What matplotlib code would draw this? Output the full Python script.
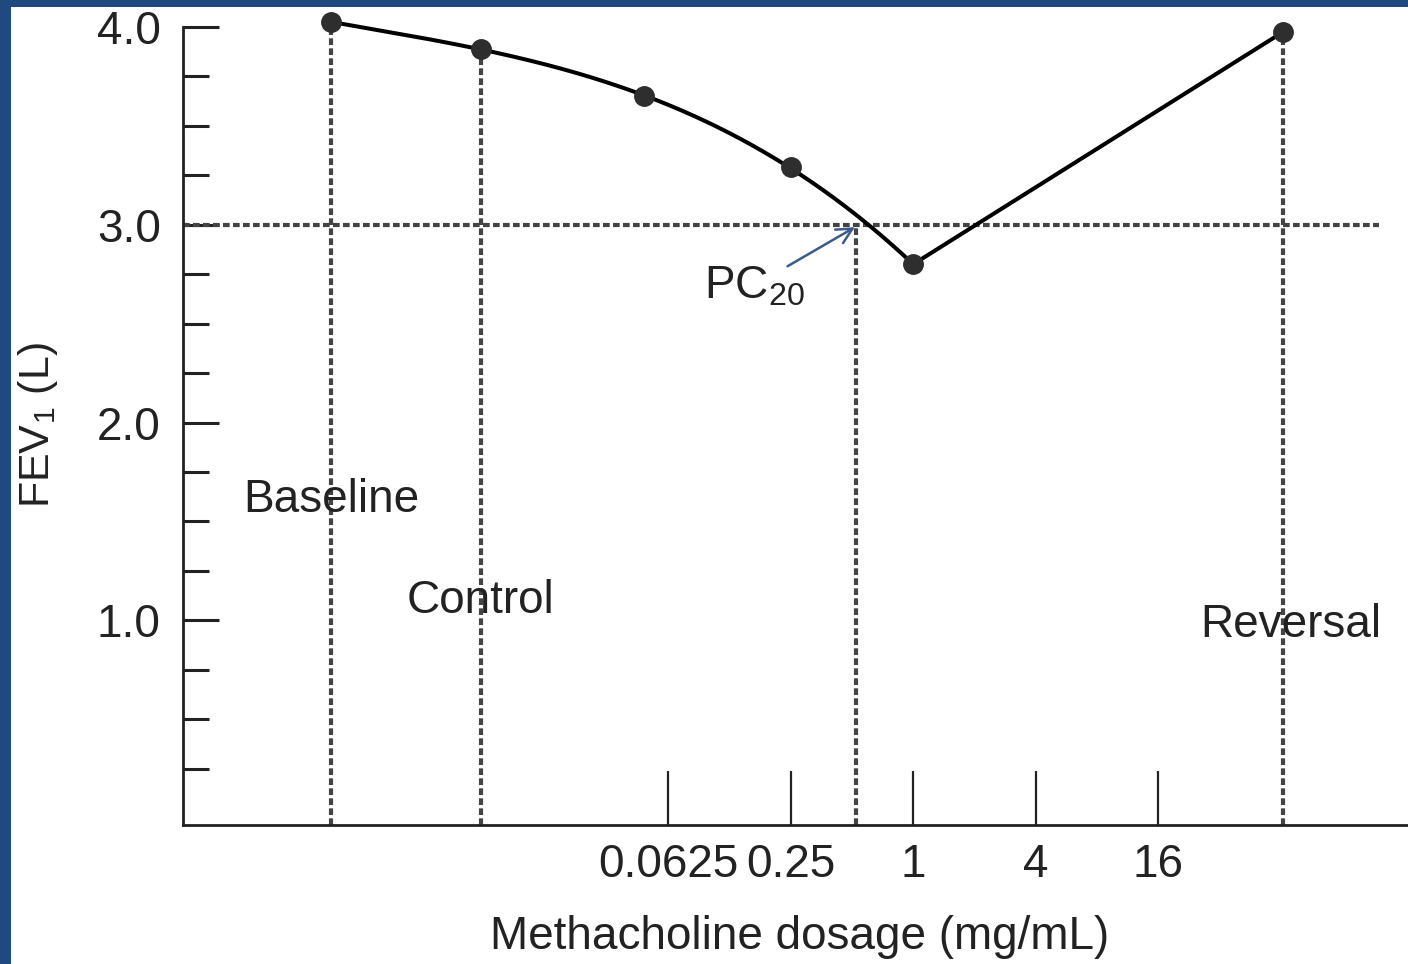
import matplotlib
matplotlib.use('Agg')
import matplotlib.pyplot as plt
import numpy as np
from matplotlib.patches import Rectangle

plt.rcParams['font.family'] = ['Liberation Sans', 'DejaVu Sans']
plt.rcParams['mathtext.default'] = 'regular'

# x positions: doses on a log4 scale, other steps as categories
dose_labels = ['0.0625', '0.25', '1', '4', '16']
dose_pos = [-2, -1, 0, 1, 2]
step_names = ['Baseline', 'Control', 'Reversal']
step_pos = [-4.75, -3.53, 3.02]
pc20_pos = -0.465

# measured FEV1 points
fev_x = [-4.75, -3.53, -2.2, -1.0, 0.0, 3.02]
fev_y = [4.025, 3.89, 3.65, 3.29, 2.80, 3.975]
pc20_level = 3.0

ink = '#222222'
dash_col = '#444444'
blue = '#1f4a7f'

fig = plt.figure(figsize=(14.08, 9.64), dpi=100, facecolor=blue)
fig.patches.append(Rectangle((11/1408, 0), 1 - 11/1408, 1 - 7/964,
                             transform=fig.transFigure, facecolor='white',
                             edgecolor='none', zorder=-10))
ax = fig.add_axes([183/1408, 139/964, 1 - 183/1408, 798/964])
ax.set_facecolor('none')
ax.set_xlim(-5.96, 4.04)
ax.set_ylim(-0.035, 4.0)

for s in ['top', 'right']:
    ax.spines[s].set_visible(False)
for s in ['left', 'bottom']:
    ax.spines[s].set_linewidth(2)
    ax.spines[s].set_color(ink)

# y ticks
ax.set_yticks([1, 2, 3, 4])
ax.set_yticklabels(['1.0', '2.0', '3.0', '4.0'])
ax.set_yticks([v for v in np.arange(0.25, 4.0, 0.25) if v % 1 != 0], minor=True)
ax.tick_params(axis='y', which='major', direction='in', length=26, width=2.2,
               color=ink, labelsize=33, pad=16, labelcolor=ink)
ax.tick_params(axis='y', which='minor', direction='in', length=19, width=2.2,
               color=ink)

# x ticks
ax.set_xticks(dose_pos)
ax.set_xticklabels(dose_labels)
ax.tick_params(axis='x', which='major', direction='in', length=39, width=1.6,
               color=ink, labelsize=33, pad=13, labelcolor=ink)

dash = (0, (1.6, 0.8))
lw_d = 3
# horizontal 3.0 line
ax.hlines(pc20_level, -5.96, 3.80, colors=dash_col, linewidth=lw_d,
          linestyles=dash, zorder=2)
# vertical drop lines
ax.vlines(step_pos[:2], -0.035, fev_y[:2], colors=dash_col, linewidth=lw_d,
          linestyles=dash, zorder=2)
ax.vlines(step_pos[2], -0.035, fev_y[5], colors=dash_col, linewidth=lw_d,
          linestyles=dash, zorder=2)
ax.vlines(pc20_pos, -0.035, pc20_level, colors=dash_col, linewidth=lw_d,
          linestyles=dash, zorder=2)

# smooth fall to the minimum, then straight line to reversal
coef = np.polyfit(fev_x[:5], fev_y[:5], 3)
xs = np.linspace(fev_x[0], fev_x[4], 200)
ax.plot(xs, np.polyval(coef, xs), color='black', linewidth=2.9, zorder=3,
        clip_on=False)
ax.plot(fev_x[4:], fev_y[4:], color='black', linewidth=2.9, zorder=3)
ax.plot(fev_x, fev_y, 'o', color='#2e2e2e', markersize=14, zorder=4,
        clip_on=False)

# labels
ax.text(step_pos[0], 1.61, step_names[0], ha='center', va='center',
        fontsize=33, color=ink)
ax.text(step_pos[1], 1.10, step_names[1], ha='center', va='center',
        fontsize=33, color=ink)
ax.text(3.08, 0.975, step_names[2], ha='center', va='center',
        fontsize=33, color=ink)
ax.text(-1.71, 2.69, 'PC$_{20}$', ha='left', va='center', fontsize=33,
        color=ink)
ax.annotate('', xy=(pc20_pos + 0.01, 2.995), xytext=(-1.045, 2.783),
            arrowprops=dict(arrowstyle='->', color='#3b5b8a', lw=1.8,
                            mutation_scale=28), zorder=5)

fig.text(800/1408, 1 - 937/964, 'Methacholine dosage (mg/mL)', ha='center',
         va='center', fontsize=33, color=ink)
fig.text(38/1408, 1 - 425/964, 'FEV$_1$ (L)', ha='center', va='center',
         rotation=90, fontsize=31, color=ink)

fig.savefig('out.png', dpi=100, facecolor=fig.get_facecolor())
